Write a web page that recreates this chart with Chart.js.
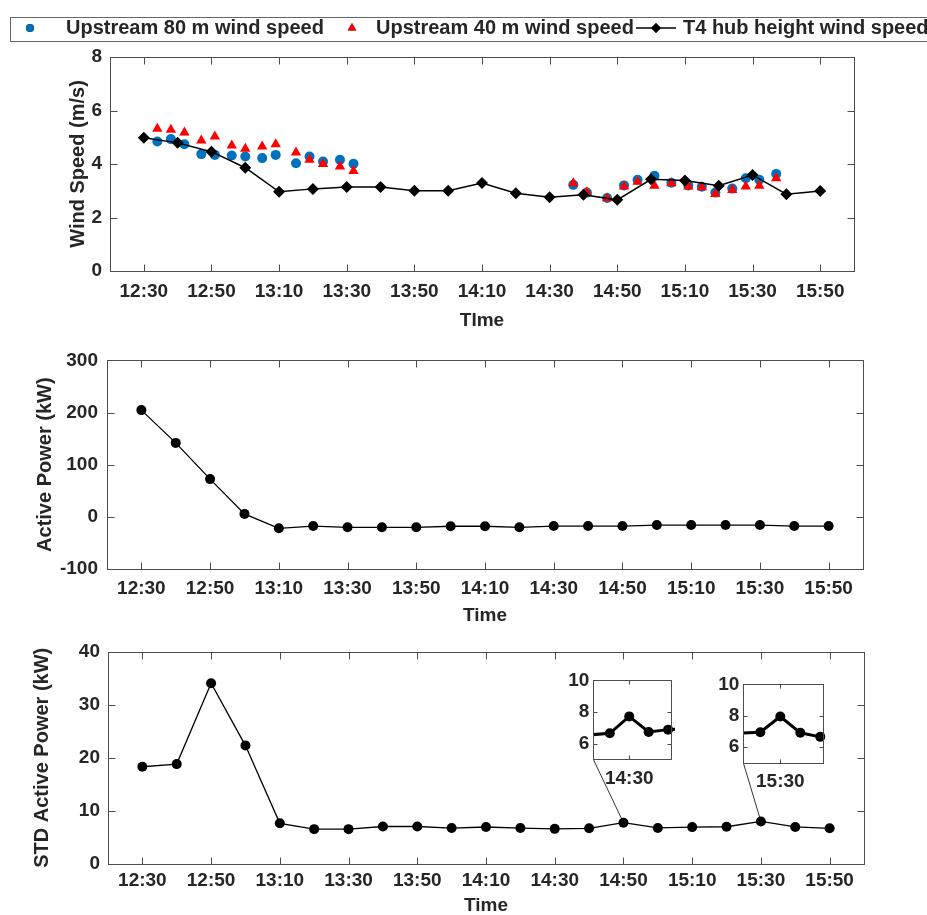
<!DOCTYPE html>
<html><head><meta charset="utf-8">
<script src="https://cdn.jsdelivr.net/npm/chart.js@4.4.1/dist/chart.umd.min.js"></script>
<style>
html,body{margin:0;padding:0;background:#fff;}
#wrap{position:relative;width:927px;height:915px;overflow:hidden;background:#fff;}
canvas{position:absolute;}
</style></head><body>
<div id="wrap">
<canvas id="c1" width="927" height="340" style="left:0;top:0"></canvas>
<canvas id="c2" width="927" height="290" style="left:0;top:340px"></canvas>
<canvas id="c3" width="927" height="288" style="left:0;top:630px"></canvas>
<canvas id="i1" width="140" height="130" style="left:540px;top:665px"></canvas>
<canvas id="i2" width="145" height="130" style="left:690px;top:669px"></canvas>
</div>
<script>
// ---------------- data ----------------
const sampleTimes = ['12:30','12:40','12:50','13:00','13:10','13:20','13:30','13:40','13:50','14:00','14:10',
                     '14:20','14:30','14:40','14:50','15:00','15:10','15:20','15:30','15:40','15:50'];
const hubWindSpeed = [4.98,4.79,4.46,3.86,2.96,3.07,3.14,3.14,3.0,3.0,3.29,
                      2.91,2.76,2.85,2.66,3.43,3.38,3.19,3.59,2.87,2.99];
const upstreamTimes = ['12:34','12:38','12:42','12:47','12:51','12:56','13:00','13:05','13:09','13:15','13:19','13:23','13:28','13:32',
                       '14:37','14:41','14:47','14:52','14:56','15:01','15:06','15:11','15:15','15:19','15:24','15:28','15:32','15:37'];
const upstream80WindSpeed = [4.84,4.93,4.74,4.37,4.34,4.32,4.28,4.22,4.34,4.03,4.28,4.09,4.16,4.01,
                             3.22,2.93,2.73,3.20,3.41,3.56,3.30,3.20,3.15,2.93,3.08,3.47,3.41,3.63];
const upstream40WindSpeed = [5.32,5.28,5.18,4.88,5.03,4.69,4.57,4.65,4.74,4.43,4.16,4.00,3.91,3.74,
                             3.28,2.94,2.72,3.16,3.34,3.19,3.28,3.16,3.13,2.88,3.03,3.16,3.19,3.47];
const activePower = [204.7,141.8,72.4,5.7,-22,-17.6,-20,-20,-20,-18,-18,
                     -20,-17.6,-17.6,-17.6,-15.7,-15.7,-15.7,-15.7,-17.6,-17.6];
const stdActivePower = [18.3,18.8,34.1,22.3,7.6,6.5,6.5,7.0,7.0,6.7,6.9,
                        6.7,6.55,6.65,7.72,6.73,6.88,6.95,7.95,6.91,6.65];
const xTickLabels = ['12:30','12:50','13:10','13:30','13:50','14:10','14:30','14:50','15:10','15:30','15:50'];
const speedTicks = [0,2,4,6,8];
const powerTicks = [-100,0,100,200,300];
const stdTicks = [0,10,20,30,40];
const insetTicks = [6,8,10];
const inset1TickTime = '14:50', inset1TickLabel = '14:30';
const inset2TickTime = '15:30', inset2TickLabel = '15:30';
const inset1Range = ['14:31:30','15:11:30'];
const inset2Range = ['15:11:30','15:51:30'];

// ---------------- helpers ----------------
const F = "'Liberation Sans', Arial, Helvetica, sans-serif";
const TXT = '#262626';
const BOX = '#4d4d4d';
function toMin(t){const p=t.split(':').map(Number);return (p[0]-12)*60+p[1]-30+(p[2]||0)/60;}
const pts = (times, vals) => times.map((t,i)=>({x:toMin(t), y:vals[i]}));

const boxPlugin = {
  id:'matlabBox',
  afterDraw(chart, args, opts){
    const {ctx, chartArea:a, scales} = chart;
    const L = opts.tickLength || 7;
    ctx.save();
    ctx.strokeStyle = BOX; ctx.lineWidth = 1;
    const l=Math.round(a.left)+0.5, t=Math.round(a.top)+0.5, r=Math.round(a.right)+0.5, b=Math.round(a.bottom)+0.5;
    ctx.strokeRect(l, t, r-l, b-t);
    ctx.beginPath();
    scales.x.ticks.forEach(tk=>{
      const px = Math.round(scales.x.getPixelForValue(tk.value))+0.5;
      if (px<=l+1||px>=r-1) return;
      ctx.moveTo(px,b); ctx.lineTo(px,b-L); ctx.moveTo(px,t); ctx.lineTo(px,t+L);
    });
    scales.y.ticks.forEach(tk=>{
      const py = Math.round(scales.y.getPixelForValue(tk.value))+0.5;
      if (py<=t+1||py>=b-1) return;
      ctx.moveTo(l,py); ctx.lineTo(l+L,py); ctx.moveTo(r,py); ctx.lineTo(r-L,py);
    });
    ctx.stroke(); ctx.restore();
  }
};
const whiteArea = {
  id:'whiteArea',
  beforeDraw(chart){const {ctx, chartArea:a}=chart; ctx.save(); ctx.fillStyle='#fff'; ctx.fillRect(a.left,a.top,a.right-a.left,a.bottom-a.top); ctx.restore();}
};

function timeAxis(height, pad, titleText, titlePadBottom){
  return {type:'linear', min:-10, max:210, position:'bottom',
    afterBuildTicks: s => { s.ticks = xTickLabels.map(t=>({value:toMin(t)})); },
    afterFit: s => { s.height = height; },
    grid:{display:false, drawTicks:false}, border:{display:false},
    ticks:{padding:pad, color:TXT, font:{family:F,size:19,weight:'bold'}, maxRotation:0, autoSkip:false,
           callback: v => { const m = xTickLabels.find(t=>toMin(t)===v); return m===undefined?'':m; }},
    title:{display:true, text:titleText, color:TXT, font:{family:F,size:19,weight:'bold'}, padding:{top:0,bottom:titlePadBottom}}
  };
}
function valAxis(min, max, ticks, width, titleText, titlePadTop, pad){
  return {type:'linear', min, max, position:'left',
    afterBuildTicks: s => { s.ticks = ticks.map(v=>({value:v})); },
    afterFit: s => { s.width = width; },
    grid:{display:false, drawTicks:false}, border:{display:false},
    ticks:{padding:pad, color:TXT, font:{family:F,size:19,weight:'bold'}},
    title:{display:!!titleText, text:titleText||'', color:TXT, font:{family:F,size:20,weight:'bold'}, padding:{top:titlePadTop,bottom:0}}
  };
}
const baseOpts = {responsive:false, animation:false, devicePixelRatio:1, events:[],
  plugins:{legend:{display:false}, tooltip:{enabled:false}}};

// ---------------- legend for top chart ----------------
const legendItems = [{marker:30, text:66}, {marker:352, text:376}, {marker:656, line:[636,676], text:683}];
const legendPlugin = {
  id:'boxLegend',
  afterDraw(chart){
    const ctx = chart.ctx, y = 28;
    ctx.save();
    ctx.strokeStyle = '#666'; ctx.lineWidth = 1;
    ctx.strokeRect(10.5, 17.5, 950, 24);
    chart.data.datasets.forEach((ds,i)=>{
      const it = legendItems[i];
      if (it.line){ ctx.strokeStyle = ds.borderColor; ctx.lineWidth = 1.5; ctx.beginPath(); ctx.moveTo(it.line[0],y); ctx.lineTo(it.line[1],y); ctx.stroke(); }
      Chart.helpers.drawPoint(ctx, {pointStyle:ds.pointStyle, radius:ds.legendRadius, rotation:0, borderWidth:0}, it.marker, y);
      ctx.fillStyle = ds.backgroundColor; ctx.fill();
      ctx.fillStyle = TXT; ctx.font = `bold 20px ${F}`; ctx.textBaseline='middle'; ctx.textAlign='left';
      ctx.fillText(ds.label, it.text, y+0.5);
    });
    ctx.restore();
  }
};

// ---------------- chart 1: wind speed ----------------
new Chart(document.getElementById('c1'), {
  type:'line',
  data:{datasets:[
    {label:'Upstream 80 m wind speed', data:pts(upstreamTimes, upstream80WindSpeed), showLine:false,
     pointStyle:'circle', pointRadius:5, backgroundColor:'#0072BD', borderColor:'#0072BD', pointBorderWidth:0, legendRadius:4, order:2},
    {label:'Upstream 40 m wind speed', data:pts(upstreamTimes, upstream40WindSpeed), showLine:false,
     pointStyle:'triangle', pointRadius:6, backgroundColor:'#FF0000', borderColor:'#FF0000', pointBorderWidth:0, legendRadius:5, order:1},
    {label:'T4 hub height wind speed', data:pts(sampleTimes, hubWindSpeed), showLine:true, tension:0,
     borderColor:'#000', borderWidth:1.5, pointStyle:'rectRot', pointRadius:6, backgroundColor:'#000', pointBorderWidth:0, legendRadius:5, order:0}
  ]},
  options:Object.assign({}, baseOpts, {
    layout:{padding:{top:57, right:73, left:0, bottom:0}},
    scales:{x:timeAxis(69, 9, 'TIme', 7.6), y:valAxis(0, 8, speedTicks, 110, 'Wind Speed (m/s)', 66, 8)},
    plugins:Object.assign({}, baseOpts.plugins, {matlabBox:{tickLength:7}})
  }),
  plugins:[boxPlugin, legendPlugin]
});

// ---------------- chart 2: active power ----------------
new Chart(document.getElementById('c2'), {
  type:'line',
  data:{datasets:[{label:'Active Power', data:pts(sampleTimes, activePower), tension:0,
    borderColor:'#000', borderWidth:1.3, pointStyle:'circle', pointRadius:5, backgroundColor:'#000', pointBorderWidth:0}]},
  options:Object.assign({}, baseOpts, {
    layout:{padding:{top:16, right:64, left:0, bottom:0}},
    scales:{x:timeAxis(61, 8.6, 'Time', 2.6), y:valAxis(-100, 300, powerTicks, 107, 'Active Power (kW)', 33, 9)},
    plugins:Object.assign({}, baseOpts.plugins, {matlabBox:{tickLength:7}})
  }),
  plugins:[boxPlugin]
});

// ---------------- insets ----------------
function insetChart(id, range, tickTime, tickLabel, yWidth, xHeight, padRight){
  const lo = toMin(range[0]), hi = toMin(range[1]);
  return new Chart(document.getElementById(id), {
    type:'line',
    data:{datasets:[{data:pts(sampleTimes, stdActivePower), tension:0, borderColor:'#000', borderWidth:3,
      pointStyle:'circle', pointRadius:c => (c.raw && c.raw.x>=lo && c.raw.x<=hi) ? 5 : 0,
      backgroundColor:'#000', pointBorderWidth:0, clip:{left:0, right:4, top:0, bottom:0}}]},
    options:Object.assign({}, baseOpts, {
      layout:{padding:{top:10, right:padRight, left:0, bottom:0}},
      scales:{
        x:{type:'linear', min:lo, max:hi,
           afterBuildTicks: s => { s.ticks = [{value:toMin(tickTime)}]; },
           afterFit: s => { s.height = xHeight; },
           grid:{display:false, drawTicks:false}, border:{display:false},
           ticks:{padding:7.6, color:TXT, font:{family:F,size:19,weight:'bold'}, maxRotation:0, autoSkip:false,
                  callback: () => tickLabel}},
        y:valAxis(5, 10, insetTicks, yWidth, '', 0, 4)
      },
      plugins:Object.assign({}, baseOpts.plugins, {matlabBox:{tickLength:4}})
    }),
    plugins:[whiteArea, boxPlugin]
  });
}
const inset1 = insetChart('i1', inset1Range, inset1TickTime, inset1TickLabel, 53.3, 35.7, 9);
const inset2 = insetChart('i2', inset2Range, inset2TickTime, inset2TickLabel, 53.3, 36.3, 11.7);

// ---------------- chart 3: STD active power ----------------
const connectorPlugin = {
  id:'connector',
  beforeDatasetsDraw(chart){
    const ctx = chart.ctx, base = chart.canvas.getBoundingClientRect();
    [[inset1, inset1TickTime],[inset2, inset2TickTime]].forEach(([ins, t])=>{
      const r = ins.canvas.getBoundingClientRect();
      const x0 = r.left - base.left + ins.chartArea.left, y0 = r.top - base.top + ins.chartArea.bottom;
      const idx = sampleTimes.indexOf(t);
      const x1 = chart.scales.x.getPixelForValue(toMin(t)), y1 = chart.scales.y.getPixelForValue(stdActivePower[idx]);
      ctx.save(); ctx.strokeStyle='#333'; ctx.lineWidth=1; ctx.beginPath(); ctx.moveTo(x0,y0); ctx.lineTo(x1,y1); ctx.stroke(); ctx.restore();
    });
  }
};
new Chart(document.getElementById('c3'), {
  type:'line',
  data:{datasets:[{label:'STD Active Power', data:pts(sampleTimes, stdActivePower), tension:0,
    borderColor:'#000', borderWidth:1.3, pointStyle:'circle', pointRadius:5, backgroundColor:'#000', pointBorderWidth:0}]},
  options:Object.assign({}, baseOpts, {
    layout:{padding:{top:22, right:63, left:0, bottom:0}},
    scales:{x:timeAxis(54.5, 6, 'Time', 0.6), y:valAxis(0, 40, stdTicks, 108, 'STD Active Power (kW)', 30, 8)},
    plugins:Object.assign({}, baseOpts.plugins, {matlabBox:{tickLength:7}})
  }),
  plugins:[connectorPlugin, boxPlugin]
});
</script>
</body></html>
